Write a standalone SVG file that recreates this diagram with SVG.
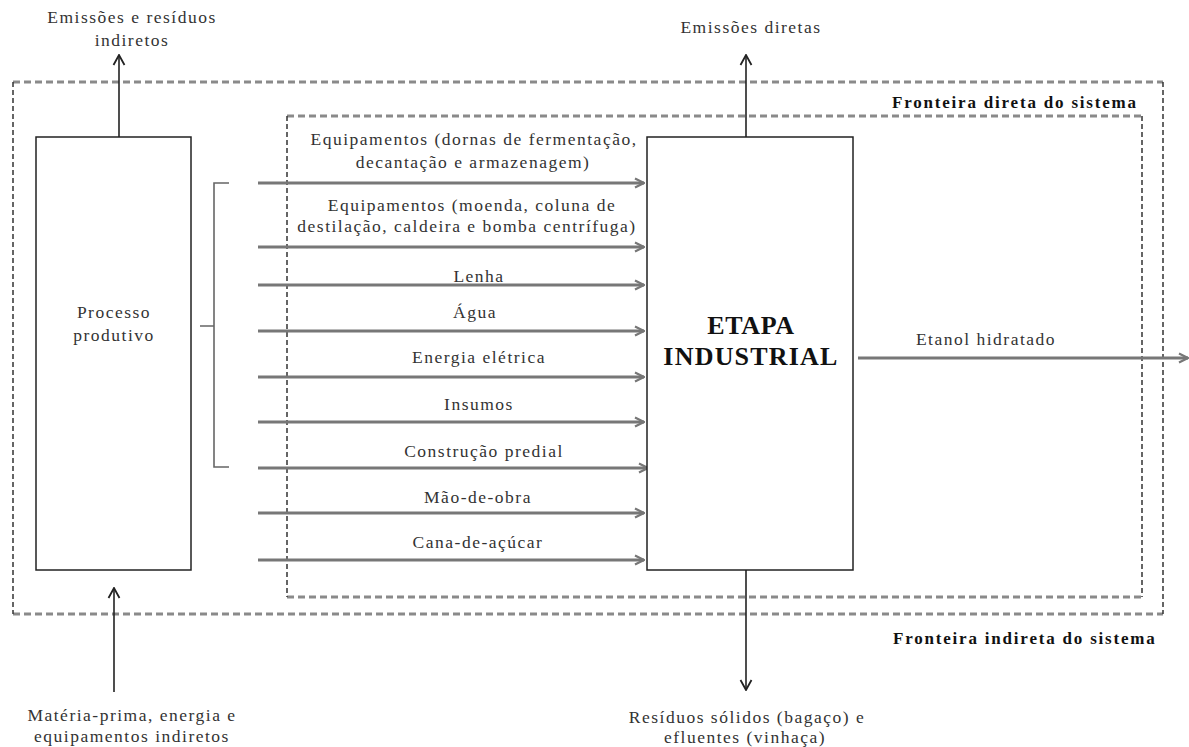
<svg xmlns="http://www.w3.org/2000/svg" width="1189" height="747" viewBox="0 0 1189 747">
  <defs>
    <style>
      .txt { font-family: "Liberation Serif", "Times New Roman", serif; font-size: 17.5px; letter-spacing: 1.5px; fill: #333; text-anchor: middle; }
      .bold { font-family: "Liberation Serif", "Times New Roman", serif; font-weight: bold; font-size: 17px; letter-spacing: 1.8px; fill: #111; }
      .title { font-family: "Liberation Serif", "Times New Roman", serif; font-weight: bold; font-size: 26px; fill: #111; text-anchor: middle; }
      .box { fill: #fff; stroke: #222; stroke-width: 1.5; }
      .dashH { fill: none; stroke: #8a8a8a; stroke-width: 3; stroke-dasharray: 7 4; }
      .dashV { fill: none; stroke: #333; stroke-width: 1.5; stroke-dasharray: 5 3; }
      .flow { fill: none; stroke: #777; stroke-width: 3; marker-end: url(#chevGray); }
      .flowK { fill: none; stroke: #222; stroke-width: 1.6; marker-end: url(#chevBlack); }
      .brace { fill: none; stroke: #666; stroke-width: 1.6; }
    </style>
    <marker id="chevGray" viewBox="0 0 12 12" refX="11" refY="6" markerWidth="12" markerHeight="12" markerUnits="userSpaceOnUse" orient="auto">
      <path d="M2,1.5 L11,6 L2,10.5" fill="none" stroke="#777" stroke-width="2.2"/>
    </marker>
    <marker id="chevBlack" viewBox="0 0 14 14" refX="13" refY="7" markerWidth="14" markerHeight="14" markerUnits="userSpaceOnUse" orient="auto">
      <path d="M3,1.5 L13,7 L3,12.5" fill="none" stroke="#222" stroke-width="1.8"/>
    </marker>
  </defs>

  <rect width="1189" height="747" fill="#fff"/>

  <!-- system boundaries -->
  <g id="fronteira-indireta">
    <path class="dashH" d="M13,82 H1163 M13,614 H1163"/>
    <path class="dashV" d="M13,82 V614 M1163,82 V614"/>
    <text class="bold" x="893" y="644">Fronteira indireta do sistema</text>
  </g>
  <g id="fronteira-direta">
    <path class="dashH" d="M287,116 H1142 M287,597 H1142"/>
    <path class="dashV" d="M287,116 V597 M1142,116 V597"/>
    <text class="bold" x="892" y="108">Fronteira direta do sistema</text>
  </g>

  <!-- connectors -->
  <g id="connectors">
    <path class="brace" d="M229,183 H214 V467 H229 M214,326 H200"/>
    <line class="flow" x1="258" y1="183" x2="644" y2="183"/>
    <line class="flow" x1="258" y1="247" x2="644" y2="247"/>
    <line class="flow" x1="258" y1="285" x2="644" y2="285"/>
    <line class="flow" x1="258" y1="331" x2="644" y2="331"/>
    <line class="flow" x1="258" y1="377" x2="644" y2="377"/>
    <line class="flow" x1="258" y1="422" x2="644" y2="422"/>
    <line class="flow" x1="258" y1="468" x2="648" y2="468"/>
    <line class="flow" x1="258" y1="513" x2="644" y2="513"/>
    <line class="flow" x1="258" y1="560" x2="644" y2="560"/>
    <line class="flow" x1="858" y1="358" x2="1188" y2="358"/>
    <line class="flowK" x1="119" y1="137" x2="119" y2="55"/>
    <line class="flowK" x1="746" y1="137" x2="746" y2="55"/>
    <line class="flowK" x1="114" y1="692" x2="114" y2="588"/>
    <line class="flowK" x1="746" y1="570" x2="746" y2="690"/>
  </g>

  <!-- flow labels -->
  <g id="labels">
    <text class="txt" x="474" y="145">Equipamentos (dornas de fermentação,</text>
    <text class="txt" x="473" y="168">decantação e armazenagem)</text>
    <text class="txt" x="472" y="211">Equipamentos (moenda, coluna de</text>
    <text class="txt" x="467" y="232">destilação, caldeira e bomba centrífuga)</text>
    <text class="txt" x="479" y="282">Lenha</text>
    <text class="txt" x="475" y="318">Água</text>
    <text class="txt" x="479" y="363">Energia elétrica</text>
    <text class="txt" x="479" y="410">Insumos</text>
    <text class="txt" x="484" y="457">Construção predial</text>
    <text class="txt" x="478" y="503">Mão-de-obra</text>
    <text class="txt" x="478" y="548">Cana-de-açúcar</text>
    <text class="txt" x="986" y="345">Etanol hidratado</text>
    <text class="txt" x="132" y="23">Emissões e resíduos</text>
    <text class="txt" x="132" y="46">indiretos</text>
    <text class="txt" x="751" y="33">Emissões diretas</text>
    <text class="txt" x="132" y="721">Matéria-prima, energia e</text>
    <text class="txt" x="132" y="742">equipamentos indiretos</text>
    <text class="txt" x="747" y="723">Resíduos sólidos (bagaço) e</text>
    <text class="txt" x="745" y="743">efluentes (vinhaça)</text>
  </g>

  <!-- nodes -->
  <g id="processo-produtivo">
    <rect class="box" x="36" y="137" width="155" height="433"/>
    <text class="txt" x="114" y="318">Processo</text>
    <text class="txt" x="114" y="341">produtivo</text>
  </g>
  <g id="etapa-industrial">
    <rect class="box" x="647" y="137" width="206" height="433"/>
    <text class="title" x="751" y="334" letter-spacing="0.6">ETAPA</text>
    <text class="title" x="751" y="365" letter-spacing="1.2">INDUSTRIAL</text>
  </g>
</svg>
